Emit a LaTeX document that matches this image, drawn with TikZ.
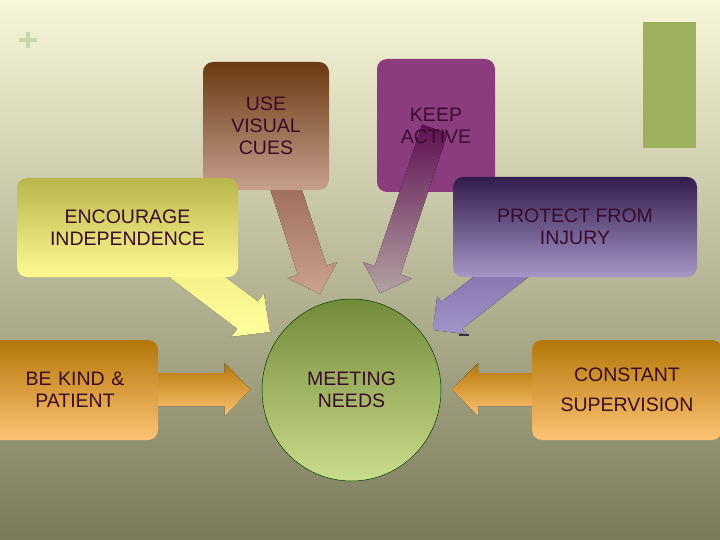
\documentclass[tikz,border=0pt]{standalone}
\usepackage{fontspec}
\setmainfont{Liberation Sans}
\usetikzlibrary{calc,shapes.geometric}
\definecolor{txt}{HTML}{3A0A2C}
\definecolor{bgT}{HTML}{F7F6D8}
\definecolor{bgB}{HTML}{7A7B5B}
\definecolor{greenbar}{HTML}{9CB05E}
\definecolor{plusc}{HTML}{C9D8AA}
\definecolor{useT}{HTML}{6B3A12}
\definecolor{useB}{HTML}{C6A08E}
\definecolor{keepC}{HTML}{8A3C7E}
\definecolor{encT}{HTML}{B9B54A}
\definecolor{encB}{HTML}{FFFA92}
\definecolor{protT}{HTML}{321C4E}
\definecolor{protB}{HTML}{A596C6}
\definecolor{kindT}{HTML}{B47608}
\definecolor{kindB}{HTML}{FDC373}
\definecolor{meetT}{HTML}{738A3A}
\definecolor{meetB}{HTML}{CADD8C}
\definecolor{useArrT}{HTML}{996454}
\definecolor{useArrB}{HTML}{C9A38F}
\definecolor{keepArrT}{HTML}{5E0F52}
\definecolor{keepArrM}{HTML}{85706A}
\definecolor{keepArrB}{HTML}{B3A2A3}
\definecolor{encArrT}{HTML}{F2EC80}
\definecolor{encArrB}{HTML}{FFFF9E}
\definecolor{protArrT}{HTML}{7D6BA5}
\definecolor{protArrB}{HTML}{A193C8}
% #1 fill options, #2 tip coordinate, #3 screen angle, #4 total length,
% #5 shaft half width, #6 head half width, #7 head length
\newcommand\blkarrow[7]{%
  \fill[#1] (#2)
    -- ($(#2)+(#3+180:#7)+(#3+90:#6)$)
    -- ($(#2)+(#3+180:#7)+(#3+90:#5)$)
    -- ($(#2)+(#3+180:#4)+(#3+90:#5)$)
    -- ($(#2)+(#3+180:#4)+(#3-90:#5)$)
    -- ($(#2)+(#3+180:#7)+(#3-90:#5)$)
    -- ($(#2)+(#3+180:#7)+(#3-90:#6)$)
    -- cycle;}
\begin{document}
\begin{tikzpicture}[x=1pt,y=-1pt,
  box/.style={rounded corners=10pt, inner sep=0pt, align=center, text=txt,
    font=\fontsize{19.5}{22}\selectfont},
  lbl/.style={inner sep=0pt, align=center, text=txt,
    font=\fontsize{19.5}{22}\selectfont}]
\useasboundingbox (0,0) rectangle (720,540);
\clip (0,0) rectangle (720,540);
% background
\fill[top color=bgT, bottom color=bgB] (0,0) rectangle (720,540);
% decorations
\fill[greenbar] (643,22) rectangle (696,148);
\draw[plusc, line width=3.5pt] (19,40) -- (37,40) (28,32) -- (28,48);

% arrow tips
\coordinate (useTip) at (320,294);
\coordinate (keepTip) at (380,293);
\coordinate (encTip) at (270,332);
\coordinate (protTip) at (433,330);
\coordinate (kindTip) at (250.5,389.5);
\coordinate (constTip) at (452,389.5);

% arrows behind boxes
\blkarrow{top color=useArrT, bottom color=useArrB}{useTip}{72}{130}{15}{26}{25}
\blkarrow{top color=encArrT, bottom color=encArrB}{encTip}{37}{112}{17}{27}{28}
\blkarrow{top color=protArrT, bottom color=protArrB}{protTip}{142}{112}{17}{24}{24}
\blkarrow{top color=kindT, bottom color=kindB}{kindTip}{0}{110}{16.5}{26.5}{26}
\blkarrow{top color=kindT, bottom color=kindB}{constTip}{180}{110}{16.5}{26.5}{26}
\draw[black!80, line width=1.2pt] (459,335) -- (469,335);

% boxes
\node[box, minimum width=126pt, minimum height=128pt, top color=useT, bottom color=useB] (use) at (266,126) {USE\\VISUAL\\CUES};
\node[box, minimum width=118pt, minimum height=133pt, fill=keepC] (keep) at (436,125.5) {};
\node[box, minimum width=221pt, minimum height=99pt, top color=encT, bottom color=encB] (enc) at (127.5,227.5) {ENCOURAGE\\INDEPENDENCE};
\node[box, minimum width=244pt, minimum height=100pt, top color=protT, bottom color=protB] (prot) at (575,227) {PROTECT FROM\\INJURY};
\node[box, minimum width=168pt, minimum height=100pt, top color=kindT, bottom color=kindB, text width=150pt] (kind) at (74,390) {\hspace*{2pt}BE KIND \&\\\hspace*{2pt}PATIENT};
\node[box, minimum width=190pt, minimum height=100pt, top color=kindT, bottom color=kindB, font=\fontsize{19.5}{30}\selectfont] (const) at (627,390) {CONSTANT\\SUPERVISION};
\node[ellipse, minimum width=179pt, minimum height=182pt, inner sep=0pt, draw=black!75!green, line width=0.5pt, top color=meetT, bottom color=meetB, align=center, text=txt, font=\fontsize{19.5}{22}\selectfont] (meet) at (351.5,390) {MEETING\\NEEDS};

% arrow over the KEEP box, then its text
\blkarrow{top color=keepArrT, middle color=keepArrM, bottom color=keepArrB}{keepTip}{108.5}{173}{13.5}{26}{24}
\node[lbl] (keeptxt) at (keep.center) {KEEP\\ACTIVE};
\end{tikzpicture}
\end{document}
